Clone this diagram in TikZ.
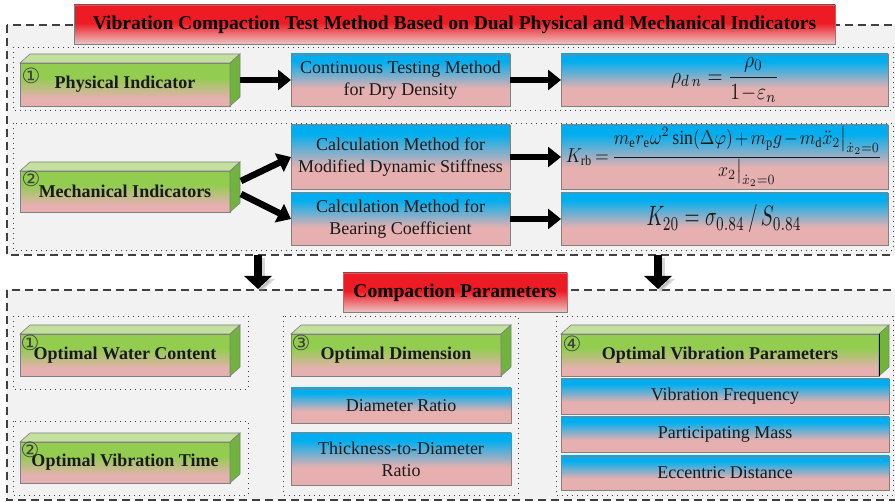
\documentclass[tikz,border=0pt]{standalone}
\usepackage{amsmath}
\usepackage{graphicx}
\usepackage{fontspec}
\setmainfont{Liberation Serif}
\newfontfamily\serf{Liberation Serif}
\newfontfamily\circfont{DejaVu Sans}
\usetikzlibrary{arrows.meta,calc}
\definecolor{bluec}{RGB}{0,174,239}
\definecolor{pinkc}{RGB}{230,176,176}
\definecolor{pinkl}{RGB}{236,196,196}
\definecolor{greenc}{RGB}{146,205,80}
\definecolor{redc}{RGB}{237,28,36}
\definecolor{topg}{RGB}{195,224,158}
\definecolor{sideg}{RGB}{112,180,62}
\definecolor{bgc}{RGB}{242,242,242}
\definecolor{edgec}{RGB}{128,128,128}
\definecolor{linec}{RGB}{64,64,64}
\definecolor{txtc}{RGB}{26,26,26}
\pgfdeclareverticalshading{bluesh}{100bp}{color(0bp)=(pinkc); color(25bp)=(pinkc); color(42bp)=(pinkc); color(68bp)=(bluec); color(100bp)=(bluec)}
\pgfdeclareverticalshading{greensh}{100bp}{color(0bp)=(pinkc); color(25bp)=(pinkc); color(34bp)=(pinkc); color(58bp)=(greenc); color(100bp)=(greenc)}
\pgfdeclareverticalshading{redsh}{100bp}{color(0bp)=(pinkl); color(25bp)=(pinkl); color(52bp)=(redc); color(100bp)=(redc)}
\tikzset{
  dashbox/.style={draw=linec, line width=1.3pt, dash pattern=on 8pt off 5pt, fill=bgc},
  dotbox/.style={draw=linec, line width=0.9pt, dash pattern=on 0.9pt off 4.1pt},
  titlebox/.style={shading=redsh, draw=edgec, line width=0.6pt, inner sep=0pt, outer sep=0pt,
    font=\serf\fontsize{19.5}{22}\selectfont\bfseries, minimum height=39},
  frontface/.style={shading=greensh, draw=edgec, line width=0.6pt, inner sep=0pt, outer sep=0pt,
    minimum height=42, font=\serf\fontsize{18}{22}\selectfont\bfseries, text=txtc},
  bluebox/.style={shading=bluesh, draw=edgec, line width=0.6pt, inner sep=0pt, outer sep=0pt,
    align=center, font=\serf\fontsize{18}{22}\selectfont, text=txtc},
  topface/.style={fill=topg, draw=edgec, line width=0.6pt},
  sideface/.style={fill=sideg, draw=edgec, line width=0.6pt},
  circnum/.style={font=\circfont\fontsize{21}{21}\selectfont, text=linec, inner sep=0pt},
  fatarrow/.style={line width=6.5pt, -{Triangle[length=13pt,width=20pt]}},
  downarrow/.style={line width=8pt, -{Triangle[length=13pt,width=27pt]}},
  formula/.style={inner sep=0pt, text=txtc}
}
\newcommand\mycube[6]{% name, x, y, width, height, text
  \node[frontface, minimum width=#4, minimum height=#5, anchor=north west] (#1) at (#2,#3) {#6};
  \draw[topface] (#1.north west) -- ++(10,-9) -- ++(#4,0) -- (#1.north east) -- cycle;
  \draw[sideface] (#1.north east) -- ++(10,-9) -- ++(0,#5) -- (#1.south east) -- cycle;
}
\begin{document}
\begin{tikzpicture}[x=1pt,y=-1pt]
\useasboundingbox (0,0) rectangle (895,502);
% outer dashed frames
\draw[dashbox] (7,25) rectangle (902,255);
\draw[dashbox] (7,290) rectangle (902,500);
% titles
\node[titlebox, minimum width=761, anchor=north west] (title) at (74,5)
  {Vibration Compaction Test Method Based on Dual Physical and Mechanical Indicators};
\node[titlebox, minimum width=224, anchor=north west] (ctitle) at (343,273) {Compaction Parameters};
% dotted frames
\draw[dotbox] (13,47) rectangle (893,110);
\draw[dotbox] (13,123) rectangle (893,250);
\draw[dotbox] (13,316) rectangle (248,389);
\draw[dotbox] (13,421) rectangle (248,495);
\draw[dotbox] (283,316) rectangle (518,495);
\draw[dotbox] (556,316) rectangle (893,495);
% row 1
\mycube{phys}{20}{63}{210}{43}{Physical Indicator}
\node[circnum] (n1) at (31,76) {①};
\node[bluebox, minimum width=219, minimum height=52, anchor=north west] (cont) at (291,54)
  {Continuous Testing Method\\for Dry Density};
\node[bluebox, minimum width=327, minimum height=52, anchor=north west] (rho) at (561,54) {};
\node[formula] (rhof) at (725,80) {\resizebox*{108pt}{45pt}{$\displaystyle\rho_{d\,n}=\frac{\rho_0}{1\!-\!\varepsilon_n}$}};
% row 2
\mycube{mech}{20}{171}{210}{41}{Mechanical Indicators}
\node[circnum] (n2) at (31,179) {②};
\node[bluebox, minimum width=219, minimum height=64, anchor=north west] (stiff) at (291,125)
  {Calculation Method for\\Modified Dynamic Stiffness};
\node[bluebox, minimum width=219, minimum height=52, anchor=north west] (bear) at (291,193)
  {Calculation Method for\\Bearing Coefficient};
\node[bluebox, minimum width=327, minimum height=64, anchor=north west] (krb) at (561,125) {};
\node[formula] (krbf) at (724,157) {\medmuskip=2mu\thickmuskip=3mu\resizebox*{316pt}{60pt}{$\displaystyle K_{\mathrm{rb}}=\frac{m_{\mathrm{e}}r_{\mathrm{e}}\omega^{2}\sin(\Delta\varphi)+m_{\mathrm{p}}g-m_{\mathrm{d}}\ddot{x}_{2}\big|_{\dot{x}_2=0}}{x_{2}\big|_{\dot{x}_2=0}}$}};
\node[bluebox, minimum width=327, minimum height=52, anchor=north west] (k20) at (561,193) {};
\node[formula] (k20f) at (724,219) {\resizebox*{155pt}{28pt}{$K_{20}=\sigma_{0.84}\,/\,S_{0.84}$}};
% arrows top
\coordinate (physR) at (240,80);
\coordinate (mechR1) at (241,181);
\coordinate (mechR2) at (241,194);
\draw[fatarrow] (physR) -- (cont.west);
\draw[fatarrow] (cont.east) -- (rho.west);
\draw[fatarrow] (mechR1) -- (stiff.west);
\draw[fatarrow] (mechR2) -- (bear.west);
\draw[fatarrow] (stiff.east) -- (krb.west);
\draw[fatarrow] (bear.east) -- (k20.west);
% down arrows
\coordinate (da1s) at (258,255);
\coordinate (da1e) at (258,289);
\coordinate (da2s) at (658,255);
\coordinate (da2e) at (658,289);
\draw[downarrow, draw=black!45, fill=black!45, opacity=0.35] ($(da1s)+(3,3)$) -- ($(da1e)+(3,3)$);
\draw[downarrow, draw=black!45, fill=black!45, opacity=0.35] ($(da2s)+(3,3)$) -- ($(da2e)+(3,3)$);
\draw[downarrow] (da1s) -- (da1e);
\draw[downarrow] (da2s) -- (da2e);
% bottom section
\mycube{water}{20}{334}{210}{42}{Optimal Water Content}
\node[circnum] (n3) at (30,343) {①};
\mycube{vtime}{20}{442}{210}{41}{Optimal Vibration Time}
\node[circnum] (n4) at (30,450) {②};
\mycube{dim}{291}{334}{210}{42}{Optimal Dimension}
\node[circnum] (n5) at (301,343) {③};
\mycube{vpar}{561}{334}{318}{42}{Optimal Vibration Parameters}
\draw[black, line width=1pt] (vpar.north east) -- (vpar.south east);
\node[circnum] (n6) at (572,344) {④};
\node[bluebox, minimum width=220, minimum height=35, anchor=north west] (dr) at (291,388) {Diameter Ratio};
\node[bluebox, minimum width=220, minimum height=52, anchor=north west] (td) at (291,433) {Thickness-to-Diameter\\Ratio};
\node[bluebox, minimum width=328, minimum height=35, anchor=north west] (vf) at (561,379) {Vibration Frequency};
\node[bluebox, minimum width=328, minimum height=35, anchor=north west] (pm) at (561,417) {Participating Mass};
\node[bluebox, minimum width=328, minimum height=34, anchor=north west] (ed) at (561,456) {Eccentric Distance};
\end{tikzpicture}
\end{document}
